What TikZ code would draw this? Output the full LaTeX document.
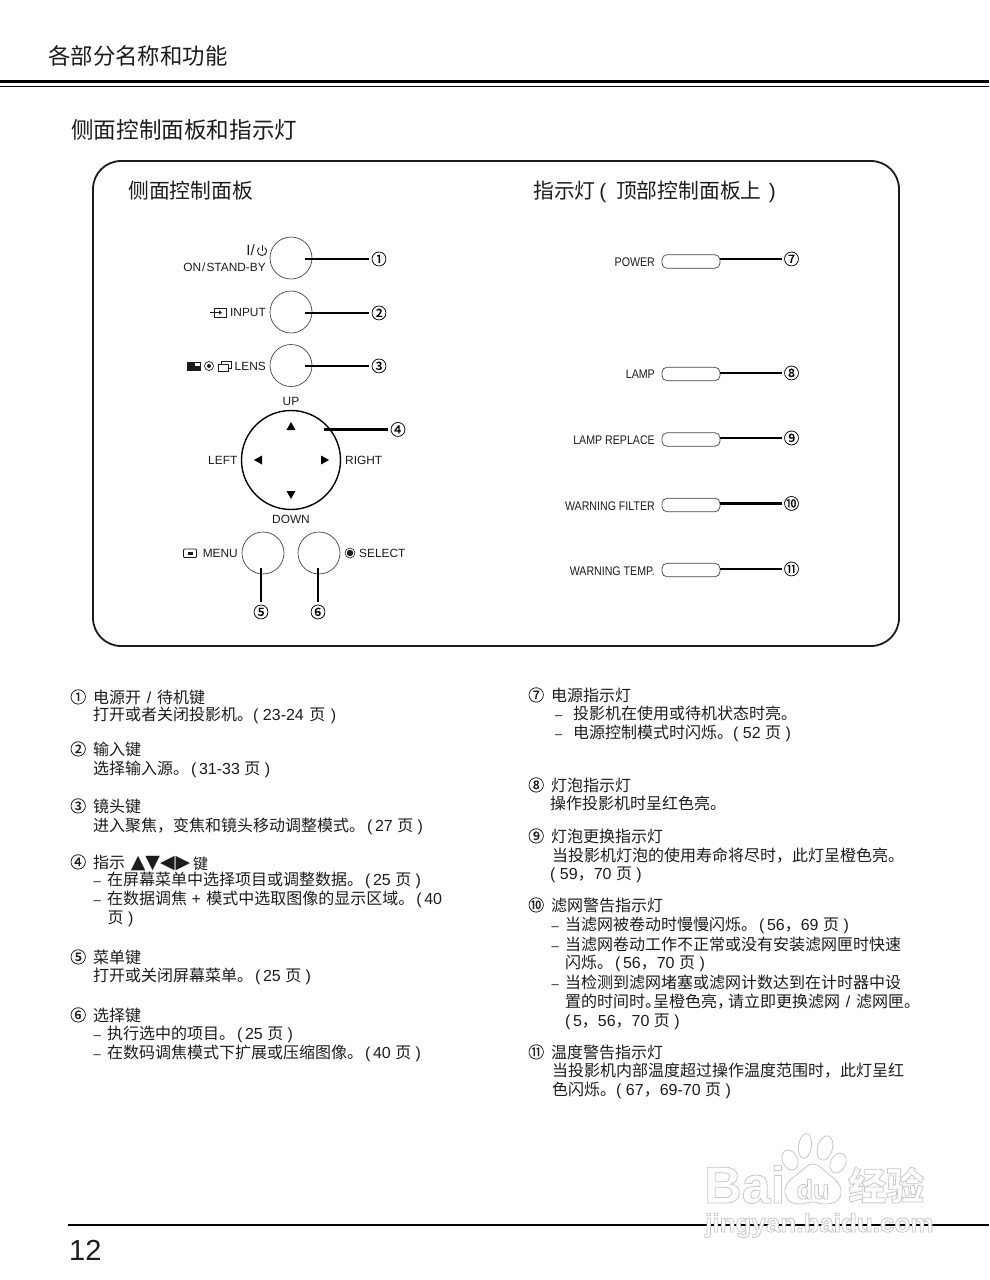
\documentclass[tikz,border=0pt]{standalone}
\usepackage{fontspec}
\setmainfont{Liberation Sans}
\newfontfamily\cnf{Noto Sans CJK SC}
\newfontfamily\numf[FakeBold=0.35]{Noto Sans CJK SC}
\newfontfamily\latf{Liberation Sans}
\newfontfamily\latc[FakeStretch=0.85]{Liberation Sans}
\newfontfamily\symf{DejaVu Sans}
\newcommand{\LN}[1]{{\latf #1}}
\newcommand{\LP}{\LN{(}\kern2.5pt}
\newcommand{\DS}[1]{\makebox[#1pt][l]{\latf\fontsize{13}{13}\selectfont –}}
\newcommand{\fs}[1]{\fontsize{#1}{#1}\selectfont}
\newcommand{\SL}{\makebox[16pt][c]{\latf /}}
\newcommand{\hollowtext}[1]{\special{pdf:code 2 Tr 0.8 w 0.78 G}#1\special{pdf:code 0 Tr 1 w 0 G}}
\definecolor{ink}{HTML}{1C1C1C}
\definecolor{thin}{HTML}{444444}
\definecolor{wm}{HTML}{C8C8C8}
\tikzset{
  body/.style={anchor=base west,inner sep=0pt,text=ink,font=\fs{16}\cnf},
  listnum/.style={anchor=base west,inner sep=0pt,text=ink,font=\fs{16}\numf},
  head/.style={anchor=base west,inner sep=0pt,text=ink,font=\fs{#1}\cnf},
  num/.style={inner sep=2pt,text=black,text height=13.6pt,text depth=1.9pt,font=\fs{15.5}\numf},
  lbl/.style={inner sep=0pt,text=ink,font=\fs{11.9}\latf},
  lblr/.style={anchor=base east,inner sep=0pt,text=ink,font=\fs{12.5}\latc},
  btn/.style={circle,draw=thin,line width=.7pt,minimum size=#1,inner sep=0pt},
  pill/.style={rectangle,draw=thin,line width=.7pt,rounded corners=5pt,minimum width=58pt,minimum height=13.5pt,inner sep=0pt},
  lead/.style={draw=black,line width=2.2pt},
  tri/.style={fill=black},
  pad/.style={ellipse,draw=wm,fill=white,line width=.8pt,inner sep=0pt},
}
\usetikzlibrary{shapes.geometric}
\begin{document}
\begin{tikzpicture}[x=1pt,y=-1pt]
\useasboundingbox (0,0) rectangle (989,1280);
% header
\node[head=22.4] (title) at (48,64.5) {各部分名称和功能};
\draw[black,line width=3pt] (0,81.5) -- (989,81.5);
\draw[black,line width=.8pt] (0,86) -- (989,86);
\node[head=22.6] (sect) at (71,138.5) {侧面控制面板和指示灯};
% panel
\node[draw=ink,line width=1.8pt,rounded corners=28pt,minimum width=806pt,minimum height=485pt,inner sep=0pt] (panel) at (496,403.5) {};
\node[head=20.8] (h1) at (128,198) {侧面控制面板};
\node[head=20.8] (h2) at (533,198) {指示灯 {\latf\kern-1pt(\kern2pt}\kern8pt顶部控制面板上\kern7pt{\latf)}};
% buttons
\node[btn=42pt] (c1) at (291,258) {};
\node[btn=42pt] (c2) at (291,312) {};
\node[btn=42pt] (c3) at (291,365.5) {};
\node[btn=99pt,line width=1.4pt,draw=black] (c4) at (291,460) {};
\node[btn=42pt] (c5) at (263,553) {};
\node[btn=42pt] (c6) at (319,553) {};
% leaders
\coordinate (a1) at (305,259);
\coordinate (a2) at (305,313);
\coordinate (a3) at (305,366);
\coordinate (a4) at (324,429.5);
\coordinate (a5) at (261,568);
\coordinate (a6) at (318,568);
\node[num] (n1) at (379,259) {①};
\node[num] (n2) at (379,313) {②};
\node[num] (n3) at (379,366) {③};
\node[num] (n4) at (398,429.5) {④};
\node[num] (n5) at (261,612) {⑤};
\node[num] (n6) at (318,612) {⑥};
\draw[lead] (a1) -- (n1.west);
\draw[lead] (a2) -- (n2.west);
\draw[lead] (a3) -- (n3.west);
\draw[lead] (a4) -- (n4.west);
\draw[lead] (a5) -- (n5.north);
\draw[lead] (a6) -- (n6.north);
% left labels
\node[lbl,anchor=base east,font=\fs{15}\latf] (k0) at (255,255) {I/};
\draw[ink,line width=.9pt] (259.1,247.6) arc[start angle=130,end angle=410,radius=4.5pt];
\draw[ink,line width=.9pt] (262,244.5) -- (262,251);
\node[lbl,anchor=base east] (k1) at (266,271) {ON\kern1pt/\kern1pt STAND-BY};
\node[lbl,anchor=base east] (k2) at (266,316.5) {INPUT};
\draw[ink,line width=.7pt] (214.5,308) rectangle (226,317);
\draw[ink,line width=.7pt] (210,312.5) -- (220,312.5);
\fill[ink] (222,312.5) -- (219,310.3) -- (219,314.7) -- cycle;
\node[lbl,anchor=base east] (k3) at (266,370) {LENS};
\fill[ink] (187,362) rectangle (201,370.5);
\fill[white] (195,362.8) -- (200.3,362.8) -- (200.3,365.8) -- (195,365.8) -- cycle;
\node[circle,draw=ink,line width=.7pt,minimum size=9pt,inner sep=0pt] (k3a) at (209,366) {};
\node[circle,fill=ink,minimum size=4pt,inner sep=0pt] (k3b) at (209,366) {};
\draw[ink,line width=.7pt] (218,364) rectangle (228,371);
\draw[ink,line width=.7pt] (221,364) -- (221,361.5) -- (231,361.5) -- (231,368.5) -- (228,368.5);
\node[lbl] (up) at (291,401) {UP};
\node[lbl] (down) at (291,519) {DOWN};
\node[lbl,anchor=east] (left) at (237.5,460) {LEFT};
\node[lbl,anchor=west] (right) at (345,460) {RIGHT};
\fill[tri] (291,422) -- (295.5,430) -- (286.5,430) -- cycle;
\fill[tri] (291,499) -- (295.5,491) -- (286.5,491) -- cycle;
\fill[tri] (254,460) -- (262,455.5) -- (262,464.5) -- cycle;
\fill[tri] (329,460) -- (321,455.5) -- (321,464.5) -- cycle;
\node[lbl,anchor=east] (menu) at (238,553) {MENU};
\draw[ink,line width=.8pt,rounded corners=1pt] (183.5,549) rectangle (196.5,557.5);
\fill[ink] (187.5,551.7) rectangle (192.5,554.8);
\node[lbl,anchor=west] (select) at (359,553) {SELECT};
\node[circle,draw=ink,line width=.6pt,minimum size=10pt,inner sep=0pt] (s1) at (350,553) {};
\node[circle,fill=ink,minimum size=6.5pt,inner sep=0pt] (s2) at (350,553) {};
% indicators
\node[lblr] (r1) at (655,266) {POWER};
\node[lblr] (r2) at (655,378.5) {LAMP};
\node[lblr] (r3) at (655,444) {LAMP REPLACE};
\node[lblr] (r4) at (655,510) {WARNING FILTER};
\node[lblr] (r5) at (655,575) {WARNING TEMP.};
\node[pill] (p1) at (691,261.5) {};
\node[pill] (p2) at (691,374) {};
\node[pill] (p3) at (691,439.5) {};
\node[pill] (p4) at (691,505) {};
\node[pill] (p5) at (691,570) {};
\coordinate (b1) at (720,259);
\coordinate (b2) at (720,373);
\coordinate (b3) at (720,438);
\coordinate (b4) at (720,503.5);
\coordinate (b5) at (720,569);
\node[num] (n7) at (791.5,259) {⑦};
\node[num] (n8) at (791.5,373) {⑧};
\node[num] (n9) at (791.5,438) {⑨};
\node[num] (n10) at (791.5,503.5) {⑩};
\node[num] (n11) at (791.5,569) {⑪};
\draw[lead] (b1) -- (n7.west);
\draw[lead] (b2) -- (n8.west);
\draw[lead] (b3) -- (n9.west);
\draw[lead] (b4) -- (n10.west);
\draw[lead] (b5) -- (n11.west);
% left column text
\node[listnum] (t1n) at (70,703) {①};
\node[body] (t1a) at (93,703) {电源开\SL 待机键};
\node[body] (t1b) at (93,720) {打开或者关闭投影机。\LN{( 23-24 }\kern1pt页\kern1pt\LN{ )}};
\node[listnum] (t2n) at (70,755) {②};
\node[body] (t2a) at (93,755) {输入键};
\node[body] (t2b) at (93,774) {选择输入源。\kern2pt\LP\LN{31-33 }页\LN{ )}};
\node[listnum] (t3n) at (70,812) {③};
\node[body] (t3a) at (93,812) {镜头键};
\node[body] (t3b) at (93,831) {进入聚焦，变焦和镜头移动调整模式。\kern2pt\LP\LN{27 }页\LN{ )}};
\node[listnum] (t4n) at (70,868) {④};
\node[body] (t4a) at (93,868) {指示 \kern2pt{\symf\fs{19}▲▼◀\kern1pt▶}\kern3pt\raisebox{-1.5pt}{\fs{15}键}};
\node[body] (t4b) at (93.5,885) {\DS{13.5}在屏幕菜单中选择项目或调整数据。\kern2pt\LP\LN{25 }页\LN{ )}};
\node[body] (t4c) at (93.5,904) {\DS{13.5}在数据调焦\LN{ + }\kern1pt模式中选取图像的显示区域。\kern2pt\LP\LN{40}};
\node[body] (t4d) at (107.5,923) {页\LN{ )}};
\node[listnum] (t5n) at (70,963) {⑤};
\node[body] (t5a) at (93,963) {菜单键};
\node[body] (t5b) at (93,981) {打开或关闭屏幕菜单。\kern2pt\LP\LN{25 }页\LN{ )}};
\node[listnum] (t6n) at (70,1021) {⑥};
\node[body] (t6a) at (93,1021) {选择键};
\node[body] (t6b) at (93.5,1039) {\DS{13.5}执行选中的项目。\kern2pt\LP\LN{25 }页\LN{ )}};
\node[body] (t6c) at (93.5,1058) {\DS{13.5}在数码调焦模式下扩展或压缩图像。\kern2pt\LP\LN{40 }页\LN{ )}};
% right column text
\node[listnum] (u7n) at (528,701) {⑦};
\node[body] (u7a) at (551,701) {电源指示灯};
\node[body] (u7b) at (555,719) {\DS{18}投影机在使用或待机状态时亮。};
\node[body] (u7c) at (555,738) {\DS{18}电源控制模式时闪烁。\LN{( 52 }页\LN{ )}};
\node[listnum] (u8n) at (528,791) {⑧};
\node[body] (u8a) at (551,791) {灯泡指示灯};
\node[body] (u8b) at (550,809) {操作投影机时呈红色亮。};
\node[listnum] (u9n) at (528,842) {⑨};
\node[body] (u9a) at (551,842) {灯泡更换指示灯};
\node[body] (u9b) at (552,861) {当投影机灯泡的使用寿命将尽时，此灯呈橙色亮。};
\node[body] (u9c) at (550,879) {\LN{( 59}，\LN{70 }页\LN{ )}};
\node[listnum] (u10n) at (528,911) {⑩};
\node[body] (u10a) at (551,911) {滤网警告指示灯};
\node[body] (u10b) at (551.5,930) {\DS{13.5}当滤网被卷动时慢慢闪烁。\kern2pt\LP\LN{56}，\LN{69 }页\LN{ )}};
\node[body] (u10c) at (551.5,950) {\DS{13.5}当滤网卷动工作不正常或没有安装滤网匣时快速};
\node[body] (u10d) at (565,968) {闪烁。\kern2pt\LP\LN{56}，\LN{70 }页\LN{ )}};
\node[body] (u10e) at (551.5,988) {\DS{13.5}当检测到滤网堵塞或滤网计数达到在计时器中设};
\node[body] (u10f) at (565,1007) {置的时间时。\kern-8pt呈橙色亮，\kern-5pt请立即更换滤网\SL 滤网匣。};
\node[body] (u10g) at (565,1026) {\LP\LN{5}，\LN{56}，\LN{70 }页\LN{ )}};
\node[listnum] (u11n) at (528,1058) {⑪};
\node[body] (u11a) at (551,1058) {温度警告指示灯};
\node[body] (u11b) at (552,1076) {当投影机内部温度超过操作温度范围时，此灯呈红};
\node[body] (u11c) at (552,1095) {色闪烁。\LN{( 67}，\LN{69-70 }页\LN{ )}};
% footer
\draw[black,line width=2.4pt] (68,1225) -- (989,1225);
\node[anchor=base west,inner sep=0pt,text=ink,font=\fs{29}\latf] (page) at (69,1260) {12};
% watermark
\node[pad,minimum width=13pt,minimum height=25pt,rotate=-8] (w1) at (805,1146) {};
\node[pad,minimum width=15pt,minimum height=25pt,rotate=-15] (w2) at (825,1148) {};
\node[pad,minimum width=15pt,minimum height=21pt,rotate=25] (w3) at (790,1160) {};
\node[pad,minimum width=15pt,minimum height=21pt,rotate=-25] (w4) at (838,1163) {};
\draw[wm,fill=white,line width=.8pt] plot[smooth cycle,tension=.7] coordinates {(813,1164) (826,1172) (840,1186) (838,1200) (825,1204) (813,1202) (800,1204) (788,1200) (786,1186) (800,1172)};
\node[anchor=base,inner sep=0pt,text=white,font=\fs{27}\latf\bfseries] (w5) at (813,1199) {\hollowtext{du}};
\node[anchor=base west,inner sep=0pt,text=white,font=\fs{52}\latf\bfseries] (w6) at (704,1203) {\hollowtext{Bai}};
\node[anchor=base west,inner sep=0pt,text=white,font=\fs{38}\cnf\bfseries] (w7) at (848,1200) {\hollowtext{经验}};
\node[anchor=base west,inner sep=0pt,text=white,font=\fs{26}\latf\bfseries] (w8) at (705,1232) {\hollowtext{jingyan.baidu.com}};
\end{tikzpicture}
\end{document}
